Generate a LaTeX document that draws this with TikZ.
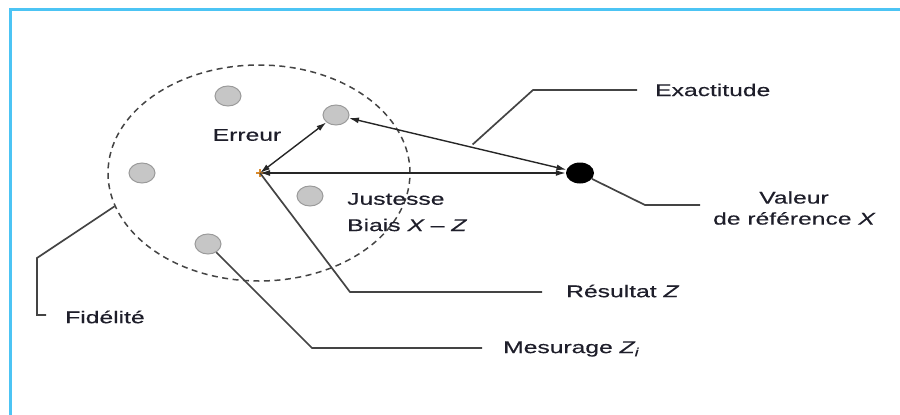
\documentclass[tikz,border=0pt]{standalone}
\usepackage{fontspec}
\setmainfont{Liberation Sans}[FakeStretch=1.45,FakeBold=0.4]
\usetikzlibrary{arrows.meta,shapes.geometric,calc}
\definecolor{framecol}{HTML}{4CC4F4}
\definecolor{dotfill}{HTML}{C6C6C6}
\definecolor{dotline}{HTML}{9A9A9A}
\definecolor{leadcol}{HTML}{444444}
\definecolor{txtcol}{HTML}{1E1E2A}
\definecolor{crosscol}{HTML}{D98A2B}
\begin{document}
\begin{tikzpicture}[x=1pt,y=-1pt,
  measure/.style={ellipse,draw=dotline,fill=dotfill,line width=1pt,
    minimum width=26pt,minimum height=20pt,inner sep=0pt},
  refdot/.style={ellipse,fill=black,minimum width=28pt,minimum height=21pt,inner sep=0pt},
  spread/.style={ellipse,draw=leadcol,dash pattern=on 6pt off 4.5pt,line width=1.5pt,
    minimum width=302pt,minimum height=216pt,inner sep=0pt},
  twoway/.style={{Latex[length=10pt,width=6pt]}-{Latex[length=10pt,width=6pt]},
    line width=1.4pt,draw=black!85},
  leader/.style={draw=leadcol,line width=1.7pt},
  lab/.style={text=txtcol,font=\fontsize{17}{21}\selectfont,inner sep=0pt},
]
\useasboundingbox (0,0) rectangle (900,415);
% frame
\draw[framecol,line width=3pt] (10,415) -- (10,9) -- (900,9);

% dispersion ellipse
\node[spread] (fid) at (259,173) {};

% individual measurements
\node[measure] (m1) at (228,96) {};
\node[measure] (m2) at (336,115) {};
\node[measure] (m3) at (142,173) {};
\node[measure] (m4) at (310,196) {};
\node[measure] (m5) at (208,244) {};

% reference value and mean result
\node[refdot] (ref) at (580,173) {};
\coordinate (z) at (260,173);
\draw[crosscol,line width=1.4pt] ($(z)+(-4,0)$) -- ($(z)+(4,0)$) ($(z)+(0,-4)$) -- ($(z)+(0,4)$);

% error, trueness, accuracy
\draw[twoway] (z) -- (m2);
\draw[twoway] (z) -- (ref);
\draw[twoway] (m2) -- (ref);

% labels
\node[lab] (err) at (247,135) {Erreur};
\node[lab,anchor=west] (just) at (347,199) {Justesse};
\node[lab,anchor=west] (bias) at (347,225) {Biais {\itshape X} – {\itshape Z}};
\node[lab,anchor=west] (exa) at (655,90) {Exactitude};
\node[lab,align=center] (val) at (794,208) {Valeur\\de référence {\itshape X}};
\node[lab,anchor=west] (res) at (566,291) {Résultat {\itshape Z}};
\node[lab,anchor=west] (mes) at (503,349) {Mesurage {\itshape Z}\raisebox{-0.35ex}{\fontsize{12}{12}\selectfont\itshape i}};
\node[lab,anchor=west] (fidl) at (65,317) {Fidélité};

% leader lines
\coordinate (exs) at ($(m2)!0.56!(ref)$);
\coordinate (exk) at (533,90);
\coordinate (exe) at (637,90);
\draw[leader] ($(exs)+(0,-3)$) -- (exk) -- (exe);

\coordinate (vk) at (645,205);
\coordinate (ve) at (700,205);
\draw[leader] (ref) -- (vk) -- (ve);

\coordinate (rk) at (350,292);
\coordinate (re) at (542,292);
\draw[leader] (z) -- (rk) -- (re);

\coordinate (mk) at (312,348);
\coordinate (me) at (482,348);
\draw[leader] (m5) -- (mk) -- (me);

\coordinate (fk1) at (37,258);
\coordinate (fk2) at (37,315);
\coordinate (fe) at (46,315);
\draw[leader] (fid.193) -- (fk1) -- (fk2) -- (fe);
\end{tikzpicture}
\end{document}
